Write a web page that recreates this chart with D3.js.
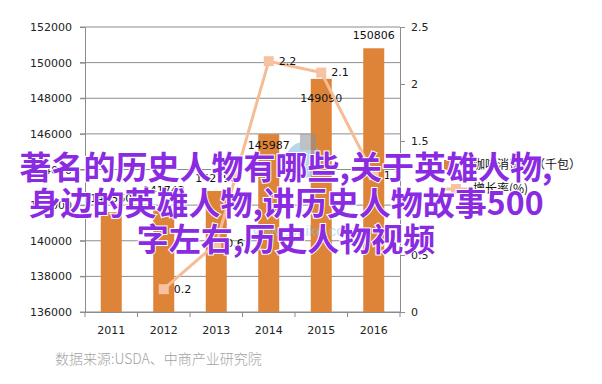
<!DOCTYPE html>
<html>
<head>
<meta charset="utf-8">
<script src="https://cdn.jsdelivr.net/npm/d3@7"></script>
<style>
  body { margin: 0; background: #fff; }
  svg { display: block; }
</style>
</head>
<body>
<div id="chart"></div>
<script>
// 数据
const years = ["2011", "2012", "2013", "2014", "2015", "2016"];
const consumption = [141600, 141742, 142796, 145987, 149090, 150806];
const consumptionLabels = ["141560", "141742", "142796", "145987", "149090", "150806"];
const growth = [null, 0.2, 0.6, 2.2, 2.1, 1.2];
const leftTicks = [136000, 138000, 140000, 142000, 144000, 146000, 148000, 150000, 152000];
const rightTicks = [0, 0.5, 1, 1.5, 2, 2.5];
const titleLines = ["著名的历史人物有哪些,关于英雄人物,", "身边的英雄人物,讲历史人物故事500", "字左右,历史人物视频"];

// 标签微调 (像素)
const labelShift = [-14, -20, -13, 11, 19, -13];

const width = 602, height = 384;
const svg = d3.select("#chart").append("svg")
  .attr("width", width)
  .attr("height", height);

const x = d3.scaleBand().domain(years).range([85, 400]);
const yL = d3.scaleLinear().domain([136000, 152000]).range([312, 27]);
const yR = d3.scaleLinear().domain([0, 2.5]).range([312, 27]);

const gridColor = "#8c8c8c";
const axisFont = "DejaVu Sans, Verdana, sans-serif";

// 网格线
svg.append("g")
  .selectAll("line")
  .data(leftTicks)
  .join("line")
  .attr("x1", 80).attr("x2", 400)
  .attr("y1", d => yL(d)).attr("y2", d => yL(d))
  .attr("stroke", gridColor)
  .attr("stroke-width", 1);

// 左轴
const leftAxis = svg.append("g")
  .attr("transform", "translate(85,0)")
  .call(d3.axisLeft(yL).tickValues(leftTicks).tickSize(5).tickPadding(8).tickFormat(d3.format("d")));
leftAxis.selectAll("text").style("font-family", axisFont).style("font-size", "11px").attr("fill", "#222");
leftAxis.selectAll("line, path").attr("stroke", gridColor);

// 右轴
const rightAxis = svg.append("g")
  .attr("transform", "translate(400,0)")
  .call(d3.axisRight(yR).tickValues(rightTicks).tickSize(5).tickPadding(6).tickFormat(d => d));
rightAxis.selectAll("text").style("font-family", axisFont).style("font-size", "11px").attr("fill", "#222");
rightAxis.selectAll("line, path").attr("stroke", gridColor);

// 底轴
const bottomAxis = svg.append("g")
  .attr("transform", "translate(0,312)")
  .call(d3.axisBottom(x).tickSize(0).tickPadding(14));
bottomAxis.selectAll("text").style("font-family", axisFont).style("font-size", "11px").attr("fill", "#222");
bottomAxis.select("path").attr("stroke", gridColor);
bottomAxis.append("g")
  .selectAll("line")
  .data(years.map(d => x(d)).concat([x.range()[1]]))
  .join("line")
  .attr("x1", d => d).attr("x2", d => d)
  .attr("y1", 0).attr("y2", 5)
  .attr("stroke", gridColor);

// 柱子
const barW = x.bandwidth() * 0.4;
svg.append("g")
  .selectAll("rect")
  .data(consumption)
  .join("rect")
  .attr("x", (d, i) => x(years[i]) + (x.bandwidth() - barW) / 2)
  .attr("y", d => yL(d))
  .attr("width", barW)
  .attr("height", d => 312 - yL(d))
  .attr("fill", "#de8438");

// 柱子标签
svg.append("g")
  .selectAll("text")
  .data(consumption)
  .join("text")
  .attr("x", (d, i) => x(years[i]) + x.bandwidth() / 2)
  .attr("y", (d, i) => yL(d) + labelShift[i])
  .attr("dy", "0.35em")
  .attr("text-anchor", "middle")
  .style("font-family", axisFont)
  .style("font-size", "11px")
  .attr("fill", "#111")
  .text((d, i) => consumptionLabels[i]);

// 水印
const wm = svg.append("g").attr("opacity", 0.55);
wm.append("circle").attr("cx", 304).attr("cy", 160).attr("r", 18).attr("fill", "#7fb8dc");
wm.append("rect").attr("x", 300).attr("y", 134).attr("width", 16).attr("height", 16).attr("fill", "#8a8f96");
wm.append("text").attr("x", 305).attr("y", 236).attr("text-anchor", "middle")
  .style("font-family", "Arial, sans-serif").style("font-size", "15px")
  .attr("fill", "#8fc2e0").text("www.baike.com");

// 折线
const pts = growth.map((v, i) => ({ year: years[i], v: v })).filter(d => d.v !== null);
const line = d3.line()
  .x(d => x(d.year) + x.bandwidth() / 2)
  .y(d => yR(d.v));
const lineColor = "#f5bd96";
svg.append("path")
  .datum(pts)
  .attr("d", line)
  .attr("fill", "none")
  .attr("stroke", lineColor)
  .attr("stroke-width", 3);
svg.append("g")
  .selectAll("rect")
  .data(pts)
  .join("rect")
  .attr("x", d => x(d.year) + x.bandwidth() / 2 - 5)
  .attr("y", d => yR(d.v) - 5)
  .attr("width", 10)
  .attr("height", 10)
  .attr("fill", "#f7c2a2");
svg.append("g")
  .selectAll("text")
  .data(pts)
  .join("text")
  .attr("x", d => x(d.year) + x.bandwidth() / 2 + 10)
  .attr("y", d => yR(d.v))
  .attr("dy", "0.35em")
  .style("font-family", axisFont)
  .style("font-size", "11px")
  .attr("fill", "#111")
  .text(d => d.v);

// 图例
const legend = svg.append("g").style("font-family", "Noto Sans CJK SC, sans-serif").style("font-size", "12px");
legend.append("rect").attr("x", 444).attr("y", 160).attr("width", 10).attr("height", 10).attr("fill", "#de8438");
legend.append("text").attr("x", 473).attr("y", 165).attr("dy", "0.35em").attr("fill", "#111").text("咖啡消费量（千包）");
legend.append("line").attr("x1", 443).attr("x2", 469).attr("y1", 189).attr("y2", 189)
  .attr("stroke", lineColor).attr("stroke-width", 3);
legend.append("rect").attr("x", 451).attr("y", 184).attr("width", 10).attr("height", 10).attr("fill", "#f7c2a2");
legend.append("text").attr("x", 473).attr("y", 189).attr("dy", "0.35em").attr("fill", "#111").text("增长率(%)");

// 数据来源
svg.append("text")
  .attr("x", 55).attr("y", 364)
  .style("font-family", "Noto Sans CJK SC, sans-serif")
  .style("font-size", "14px")
  .style("font-weight", 300)
  .attr("fill", "#a3a3a3")
  .text("数据来源:USDA、中商产业研究院");

// 标题覆盖文字
svg.append("g")
  .selectAll("text")
  .data(titleLines)
  .join("text")
  .attr("x", 286)
  .attr("y", (d, i) => 179 + i * 36)
  .attr("text-anchor", "middle")
  .style("font-family", "Noto Sans CJK SC, sans-serif")
  .style("font-size", "32px")
  .style("font-weight", 700)
  .attr("fill", "#8a2be2")
  .attr("stroke", "#fff")
  .attr("stroke-width", 2)
  .attr("paint-order", "stroke")
  .text(d => d);
</script>
</body>
</html>
